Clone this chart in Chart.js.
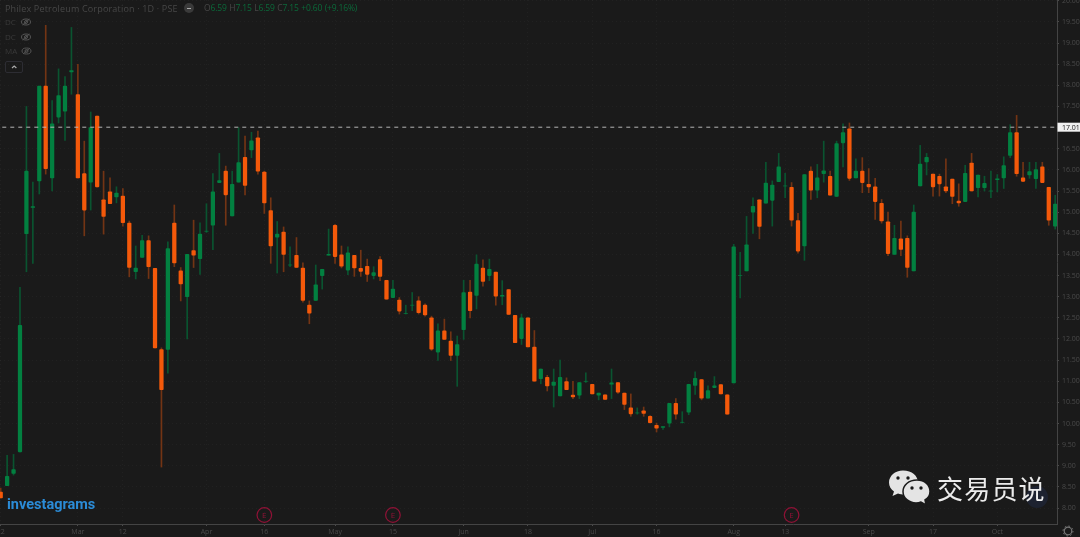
<!DOCTYPE html>
<html><head><meta charset="utf-8">
<script src="https://cdn.jsdelivr.net/npm/chart.js@4"></script>
<style>
html,body{margin:0;padding:0;background:#1a1a1a;overflow:hidden;width:1080px;height:537px}
#wrap{position:relative;width:1080px;height:537px}
canvas{position:absolute;left:0;top:0;filter:blur(.35px)}
.t{position:absolute;white-space:nowrap;font-family:"Open Sans",sans-serif}
svg{position:absolute;overflow:visible}
</style></head><body>
<div id="wrap">
<canvas id="c" width="1080" height="537"></canvas>
<div class="t" style="left:5px;top:2px;font-size:9px;letter-spacing:.18px;color:#474747">Philex Petroleum Corporation · 1D · PSE</div>
<div style="position:absolute;left:184px;top:3px;width:10px;height:10px;border-radius:50%;background:#3a3a3a"></div>
<div style="position:absolute;left:187px;top:7.5px;width:4px;height:1.2px;background:#aaa"></div>
<div class="t" style="left:204px;top:2px;font-size:8.5px;letter-spacing:-.15px;word-spacing:.5px;color:#474747">O<span style="color:#0b6a3a">6.59</span> H<span style="color:#0b6a3a">7.15</span> L<span style="color:#0b6a3a">6.59</span> C<span style="color:#0b6a3a">7.15</span> <span style="color:#0b6a3a">+0.60 (+9.16%)</span></div>
<div class="t" style="left:5px;top:16px;font-size:8px;color:#3a3a3a">DC</div>
<div class="t" style="left:5px;top:31px;font-size:8px;color:#3a3a3a">DC</div>
<div class="t" style="left:5px;top:45px;font-size:8px;color:#3a3a3a">MA</div>
<svg style="left:0;top:0" width="40" height="80">
 <g fill="none" stroke="#555" stroke-width="1">
  <ellipse cx="26" cy="22" rx="4.5" ry="3"/><circle cx="26" cy="22" r="1.5"/><path d="M22.5 25 L29.5 19"/>
  <ellipse cx="26" cy="37" rx="4.5" ry="3"/><circle cx="26" cy="37" r="1.5"/><path d="M22.5 40 L29.5 34"/>
  <ellipse cx="26.500" cy="51" rx="4.500" ry="3"/><circle cx="26.500" cy="51" r="1.500"/><path d="M23 54 L30 48"/>
 </g>
 <rect x="5.500" y="61.500" width="17" height="11" rx="1.500" fill="none" stroke="#2d2d33"/>
 <path d="M12 68 L14.200 66 L16.400 68" fill="none" stroke="#aaa" stroke-width="1.200"/>
</svg>
<div class="t" style="left:7px;top:496px;font-family:Roboto,sans-serif;font-weight:700;font-size:14.5px;letter-spacing:0;color:#2b8bd6">investagrams</div>
<div style="position:absolute;left:1026px;top:486px;width:22px;height:22px;border-radius:50%;background:#1d2230"></div>
<svg style="left:888px;top:470px" width="44" height="36">
 <path d="M15 0.500 C7 .5 1 6 1 12.500 C1 16.500 3 19.500 6 21.500 L4.500 26 L10 23.500 C12 24.300 14 24.500 16 24.500 C24 24.500 30 19 30 12.500 C30 6 24 .5 15 .5 Z" fill="#e4e4e4"/>
 <path d="M29 10 C20.500 10 15 15.500 15 21.500 C15 28 21 33 28 33 C30 33 31.500 32.700 33 32 L38 35 L37 30 C40.500 28 42 25 42 21.500 C42 15.500 37 10 29 10 Z" fill="#e4e4e4" stroke="#1a1a1a" stroke-width="1.500"/>
 <circle cx="10" cy="8" r="1.700" fill="#1a1a1a"/><circle cx="20" cy="8" r="1.700" fill="#1a1a1a"/>
 <circle cx="24" cy="18" r="1.700" fill="#1a1a1a"/><circle cx="33" cy="18" r="1.700" fill="#1a1a1a"/>
</svg>
<div class="t" style="left:937px;top:470px;font-family:'Noto Sans CJK SC',sans-serif;font-size:26px;line-height:36px;letter-spacing:1.2px;color:#ececec">交易员说</div>
<svg style="left:1061px;top:524px" width="14" height="13"><circle cx="7" cy="7" r="3.800" fill="none" stroke="#777" stroke-width="1.200"/><circle cx="7" cy="7" r="5" fill="none" stroke="#777" stroke-width="1" stroke-dasharray="1.500 2.400"/></svg>
</div>
<script>
const openP=[8.38,8.53,8.82,9.33,14.49,15.11,15.74,17.98,15.81,17.25,17.39,18.32,17.78,15.91,15.71,17.27,15.29,15.48,15.36,15.38,14.74,13.59,13.93,14.33,13.67,11.75,11.75,14.74,13.61,13.0,14.09,13.9,14.55,14.69,15.7,15.97,14.91,15.71,16.3,16.47,16.76,15.95,15.04,14.41,14.53,13.75,13.98,13.68,12.8,12.91,13.5,13.98,14.69,
13.99,13.63,13.98,13.67,13.72,13.5,13.88,13.39,12.98,12.92,12.6,12.8,12.9,12.8,12.5,11.69,12.19,11.95,11.61,12.22,13.11,13.03,13.68,13.5,13.58,13.01,13.17,12.56,12.01,12.5,11.81,11.06,11.09,10.9,10.65,10.99,10.67,10.67,11.0,10.93,10.67,10.68,10.93,10.97,10.72,10.37,10.25,10.3,10.17,9.96,9.91,10.01,10.48,10.03,10.27,10.9,
11.04,10.6,10.85,10.92,10.68,10.96,13.5,13.61,15.0,15.29,15.21,15.28,15.72,15.62,15.59,14.8,14.2,15.97,15.52,15.91,15.85,15.37,16.64,16.97,15.81,15.97,15.66,15.6,15.21,14.77,14.0,14.37,14.38,13.61,15.62,16.19,15.9,15.85,15.6,15.78,15.26,15.25,16.16,15.58,15.58,15.5,15.77,15.81,16.34,16.88,15.81,15.88,15.79,16.07,15.59,14.67];
const highP=[8.47,9.25,9.27,13.22,17.5,15.71,17.98,19.42,17.64,18.39,18.21,19.37,18.5,16.68,17.37,17.27,15.97,15.81,15.6,15.56,14.79,14.2,14.45,14.44,13.67,11.79,14.3,15.17,13.69,14.0,14.81,14.75,15.2,15.91,16.39,16.09,15.97,17.0,16.8,16.89,16.92,15.97,15.34,14.78,14.65,14.18,14.4,13.8,12.9,13.75,13.65,14.6,14.71,
14.2,14.18,13.98,14.1,13.89,13.71,13.95,13.39,13.39,12.98,12.8,13.1,13.0,12.83,12.54,12.36,12.47,12.17,12.07,13.39,13.39,13.99,13.87,13.89,13.58,13.38,13.17,12.56,12.59,12.5,12.2,11.29,11.14,11.29,11.5,11.08,11.0,10.97,11.2,10.93,10.72,10.68,11.29,10.97,10.72,10.7,10.37,10.39,10.19,10.01,9.93,10.48,10.59,10.28,10.93,11.22,
11.04,10.89,11.11,10.92,10.68,14.24,14.05,14.9,15.34,15.29,16.18,15.74,16.39,15.92,15.7,14.97,15.89,16.07,16.13,16.68,15.97,16.68,17.09,17.11,16.26,16.29,16.03,15.8,15.3,15.0,14.69,14.79,14.44,15.17,16.58,16.39,15.9,15.9,16.26,15.78,15.67,16.11,16.39,15.88,15.85,15.97,15.89,16.31,17.07,17.29,16.18,16.18,16.18,16.18,15.59,15.4];
const lowP=[8.24,8.53,8.78,9.33,13.59,13.79,15.43,15.9,15.5,17.11,16.7,17.79,15.81,14.44,15.05,15.6,14.48,15.2,15.22,14.67,13.47,13.42,13.93,13.43,11.79,8.97,11.19,13.71,12.9,12.0,13.69,13.53,14.52,14.11,15.7,14.69,14.91,15.71,15.41,16.29,15.9,14.97,13.79,13.56,13.59,13.71,13.69,12.87,12.36,12.91,13.18,13.98,13.79,
13.68,13.52,13.48,13.48,13.36,13.42,13.38,12.94,12.98,12.59,12.59,12.67,12.59,12.54,11.73,11.49,11.99,11.49,10.88,11.99,12.5,12.71,13.25,13.38,12.8,12.81,12.58,11.91,11.87,11.81,11.0,10.94,10.77,10.39,10.65,10.8,10.59,10.59,10.97,10.7,10.56,10.57,10.59,10.71,10.33,10.17,10.22,10.17,10.01,9.8,9.86,9.92,10.1,10.01,10.21,10.69,
10.56,10.6,10.85,10.7,10.22,10.96,12.97,13.61,14.5,14.37,15.21,14.67,15.72,15.34,14.67,14.03,13.86,15.3,15.34,15.71,15.4,15.37,16.07,15.75,15.81,15.46,15.46,14.83,14.74,13.97,14.0,13.97,13.46,13.61,15.62,15.88,15.38,15.38,15.46,15.2,15.14,15.25,15.5,15.36,15.5,15.34,15.48,15.56,16.29,15.85,15.73,15.8,15.56,15.7,14.69,14.6];
const closeP=[8.24,8.75,8.91,12.32,15.97,15.13,17.98,16.03,17.09,17.76,17.98,18.35,15.81,15.05,17.0,15.6,14.9,15.2,15.45,14.75,13.69,13.68,14.33,13.71,11.79,10.8,14.14,13.8,13.3,14.0,13.98,14.48,14.55,15.48,15.75,15.41,15.66,16.17,15.63,16.69,15.97,15.22,14.2,14.48,14.0,13.75,13.69,12.91,12.61,13.28,13.65,14.0,13.95,
13.72,14.04,13.68,13.6,13.53,13.57,13.48,12.94,13.18,12.66,12.6,12.8,12.62,12.57,11.76,12.19,11.99,11.61,11.87,13.1,12.67,13.77,13.36,13.65,13.01,13.03,12.58,11.91,12.5,11.81,11.0,11.29,10.89,10.98,11.09,10.8,10.63,10.97,11.0,10.7,10.72,10.57,10.96,10.74,10.45,10.23,10.25,10.24,10.02,9.89,9.93,10.48,10.22,10.03,10.93,11.07,
10.6,10.78,10.89,10.7,10.22,14.18,13.5,14.23,15.14,14.66,15.69,15.64,16.07,15.62,14.81,14.08,15.89,15.52,15.81,15.98,15.4,16.62,16.88,15.8,15.97,15.7,15.6,15.25,14.79,14.02,14.38,14.12,13.69,15.0,16.14,16.3,15.6,15.67,15.5,15.37,15.22,15.92,15.5,15.88,15.68,15.5,15.79,16.1,16.88,15.91,15.73,15.96,16.01,15.7,14.81,15.19];
const tickIndex=[0,12,19,32,41,52,61,72,82,92,102,114,122,135,145,155];
const tickLabels=["22","Mar","12","Apr","16","May","15","Jun","18","Jul","16","Aug","13","Sep","17","Oct"];
const priceTicks=[8,8.5,9,9.5,10,10.5,11,11.5,12,12.5,13,13.5,14,14.5,15,15.5,16,16.5,17,17.5,18,18.5,19,19.5,20];
const lastPrice=17.01;
const earningsIndex=[41,61,123];

const UP="#028040",DOWN="#f4590a",UPW="#0a5430",DOWNW="#733414";
const idx=openP.map((_,i)=>i);
const isUp=i=>closeP[i]>=openP[i];
const wicks=idx.map(i=>({x:i,y:[lowP[i],highP[i]]}));
const bodies=idx.map(i=>({x:i,y:[Math.min(openP[i],closeP[i]),Math.max(openP[i],closeP[i])]}));
const overlay={id:'overlay',afterDatasetsDraw(ch){
  const {ctx,scales:{x,y},chartArea:a}=ch;
  ctx.save();
  earningsIndex.forEach(i=>{
    const px=x.getPixelForValue(i),py=a.bottom-9;
    ctx.beginPath();ctx.arc(px,py,7.3,0,Math.PI*2);ctx.strokeStyle="#8f1236";ctx.lineWidth=1.2;ctx.stroke();
    ctx.fillStyle="#8f1236";ctx.font='8px "Open Sans"';ctx.textAlign="center";ctx.textBaseline="middle";ctx.fillText("E",px,py+.5);
  });
  const py=y.getPixelForValue(lastPrice);
  ctx.fillStyle="#f2f2f2";ctx.fillRect(a.right+.5,py-4.5,23,9);
  ctx.fillStyle="#222";ctx.font='7px "Open Sans"';ctx.textAlign="left";ctx.textBaseline="middle";
  ctx.fillText(lastPrice.toFixed(2),a.right+5,py+.5);
  ctx.restore();
}};
new Chart(document.getElementById('c'),{
  type:'bar',
  data:{datasets:[
    {type:'line',data:[{x:-1,y:lastPrice},{x:170,y:lastPrice}],borderColor:"#b5b5b5",borderWidth:1,borderDash:[4,4],pointRadius:0,order:0},
    {data:bodies,backgroundColor:idx.map(i=>isUp(i)?UP:DOWN),barThickness:3.6,grouped:false,borderRadius:.8,borderSkipped:false,order:1},
    {data:wicks,backgroundColor:idx.map(i=>isUp(i)?UPW:DOWNW),barThickness:1,grouped:false,order:2}
  ]},
  options:{
    responsive:false,animation:false,devicePixelRatio:1,
    layout:{padding:0},
    plugins:{legend:{display:false},tooltip:{enabled:false}},
    scales:{
      x:{type:'linear',offset:false,min:-0.109,max:164.28,
        afterBuildTicks(s){s.ticks=tickIndex.map(v=>({value:v}));},
        afterFit(s){s.height=13;s.paddingLeft=0;s.paddingRight=0;},
        grid:{offset:false,color:"rgba(255,255,255,.03)",tickColor:"#4a4a4a",tickLength:2},
        border:{color:"#444",dash:[1,3]},
        ticks:{autoSkip:false,maxRotation:0,padding:2,color:"#4a4a4a",font:{family:"Open Sans",size:7},
          callback:v=>tickLabels[tickIndex.indexOf(v)]}},
      y:{position:'right',min:7.623,max:20.019,
        afterBuildTicks(s){s.ticks=priceTicks.map(v=>({value:v}));},
        afterFit(s){s.width=23;s.paddingTop=0;s.paddingBottom=0;},
        grid:{color:"rgba(255,255,255,.03)",tickColor:"#4a4a4a",tickLength:2},
        border:{color:"#444",dash:[1,3]},
        ticks:{autoSkip:false,padding:3,color:"#4a4a4a",font:{family:"Open Sans",size:7},callback:v=>v.toFixed(2)}}
    }
  },
  plugins:[overlay]
});
</script>
</body></html>
